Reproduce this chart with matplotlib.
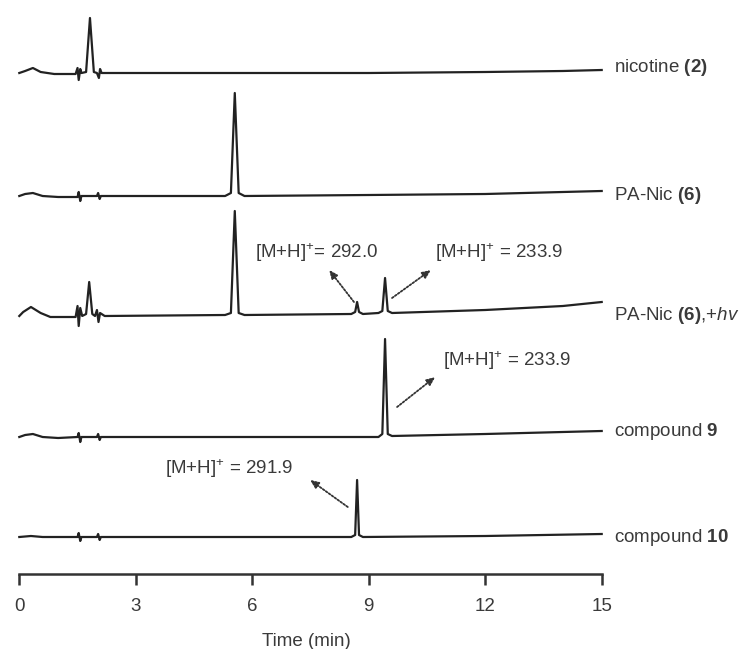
import matplotlib
matplotlib.use("Agg")
import matplotlib.pyplot as plt

plt.rcParams['font.family'] = ['Liberation Sans', 'DejaVu Sans']
plt.rcParams['mathtext.fontset'] = 'custom'
plt.rcParams['mathtext.rm'] = 'Liberation Sans'
plt.rcParams['mathtext.bf'] = 'Liberation Sans:bold'
plt.rcParams['mathtext.it'] = 'Liberation Sans:italic'

# ---- data: (time in min, signal in relative units) ----
nic_t = [0, 0.15, 0.35, 0.55, 0.9, 1.45, 1.5, 1.53, 1.57, 1.6, 1.72, 1.82, 1.92, 2.0, 2.05, 2.08, 2.12, 2.3, 5, 9, 12, 14, 15]
nic_y = [0, 2, 5, 1, -1, -1, 5, -7, 4, 0, 1, 55, 1, 0, -5, 4, 0, 0, 0, 0, 1, 2, 3]

pa_t = [0, 0.15, 0.35, 0.6, 1.0, 1.5, 1.53, 1.57, 1.6, 2.0, 2.03, 2.07, 2.1, 2.9, 5.3, 5.45, 5.55, 5.65, 5.8, 9, 12, 15]
pa_y = [0, 2, 3, 0, -1, -1, 4, -5, 0, 0, 3, -3, 0, 0, 0, 3, 103, 3, 0, 1, 2, 5]

hv_t = [0, 0.1, 0.3, 0.55, 0.8, 1.2, 1.45, 1.5, 1.53, 1.57, 1.62, 1.72, 1.8, 1.88, 1.95, 2.0, 2.04, 2.08, 2.2,
        5.3, 5.45, 5.55, 5.65, 5.8, 8.55, 8.65, 8.7, 8.75, 8.85, 9.25, 9.35, 9.42, 9.49, 9.6, 12, 14, 15]
hv_y = [0, 4, 9, 3, -1, -1, -1, 10, -10, 8, 0, 2, 34, 2, 0, 6, -6, 3, 0,
        1, 3, 105, 3, 1, 2, 4, 14, 4, 2, 3, 5, 38, 5, 3, 6, 10, 14]

c9_t = [0, 0.15, 0.35, 0.6, 1.0, 1.5, 1.53, 1.57, 1.6, 2.0, 2.03, 2.07, 2.1, 9.25, 9.35, 9.42, 9.49, 9.6, 12, 15]
c9_y = [0, 2, 3, 0, -1, 0, 4, -5, 0, 0, 3, -3, 0, 0, 3, 98, 3, 1, 3, 6]

c10_t = [0, 0.3, 0.6, 1.5, 1.53, 1.57, 1.6, 2.0, 2.03, 2.07, 2.1, 8.55, 8.65, 8.7, 8.75, 8.85, 12, 15]
c10_y = [0, 1, 0, 0, 4, -4, 0, 0, 3, -3, 0, 0, 2, 57, 2, 0, 1, 3]

trace_names = [r"nicotine $\mathbf{(2)}$", r"PA-Nic $\mathbf{(6)}$", r"PA-Nic $\mathbf{(6)}$,+$\mathit{hv}$",
               r"compound $\mathbf{9}$", r"compound $\mathbf{10}$"]
trace_offsets = [501, 378, 258, 137, 37]
label_y = [506, 379, 258, 142, 36]

ms_labels = [r"[M+H]$^{+}$= 292.0", r"[M+H]$^{+}$ = 233.9", r"[M+H]$^{+}$ = 233.9", r"[M+H]$^{+}$ = 291.9"]

x_ticks = [0, 3, 6, 9, 12, 15]

# ---- figure ----
W, H = 747, 649
FS = 13.5
fig = plt.figure(figsize=(W / 100, H / 100), dpi=100)
ax = fig.add_axes([19.3 / W, 75 / H, 582.4 / W, 574 / H])
ax.set_xlim(0, 15)
ax.set_ylim(0, 574)

col = '#222222'
tcol = '#3a3a3a'
traces = [(nic_t, nic_y), (pa_t, pa_y), (hv_t, hv_y), (c9_t, c9_y), (c10_t, c10_y)]
for (t, y), off, name, ly in zip(traces, trace_offsets, trace_names, label_y):
    ax.plot(t, [v + off for v in y], color=col, lw=1.6, solid_joinstyle='round', clip_on=False)
    ax.text(15.32, ly, name, fontsize=FS, color=tcol, va='center', ha='left')

# annotations (text position, arrow tail -> arrow head)
annots = [
    (ms_labels[0], (6.07, 321), (8.62, 272), (7.98, 304)),
    (ms_labels[1], (10.71, 321), (9.6, 276), (10.6, 304)),
    (ms_labels[2], (10.91, 213), (9.73, 167), (10.71, 197)),
    (ms_labels[3], (3.75, 105), (8.46, 67), (7.49, 94)),
]
for txt, tpos, tail, head in annots:
    ax.text(tpos[0], tpos[1], txt, fontsize=FS, color=tcol, va='center', ha='left')
    ax.annotate('', xy=head, xytext=tail,
                arrowprops=dict(arrowstyle='-|>,head_length=0.5,head_width=0.22', linestyle=(0, (1, 1)),
                                color='#333333', lw=1.3, shrinkA=0, shrinkB=0))

for s in ['top', 'right', 'left']:
    ax.spines[s].set_visible(False)
ax.spines['bottom'].set_linewidth(1.8)
ax.spines['bottom'].set_color('#333333')
ax.set_yticks([])
ax.set_xticks(x_ticks)
ax.set_xticklabels([str(v) for v in x_ticks])
ax.tick_params(axis='x', direction='out', length=8, width=1.8, color='#333333',
               labelsize=FS, labelcolor=tcol, pad=9)
fig.text(306 / W, 1 - 641 / H, 'Time (min)', fontsize=FS, color=tcol, ha='center', va='center')
ax.patch.set_alpha(0)

fig.savefig('out.png', dpi=100, facecolor='white')
